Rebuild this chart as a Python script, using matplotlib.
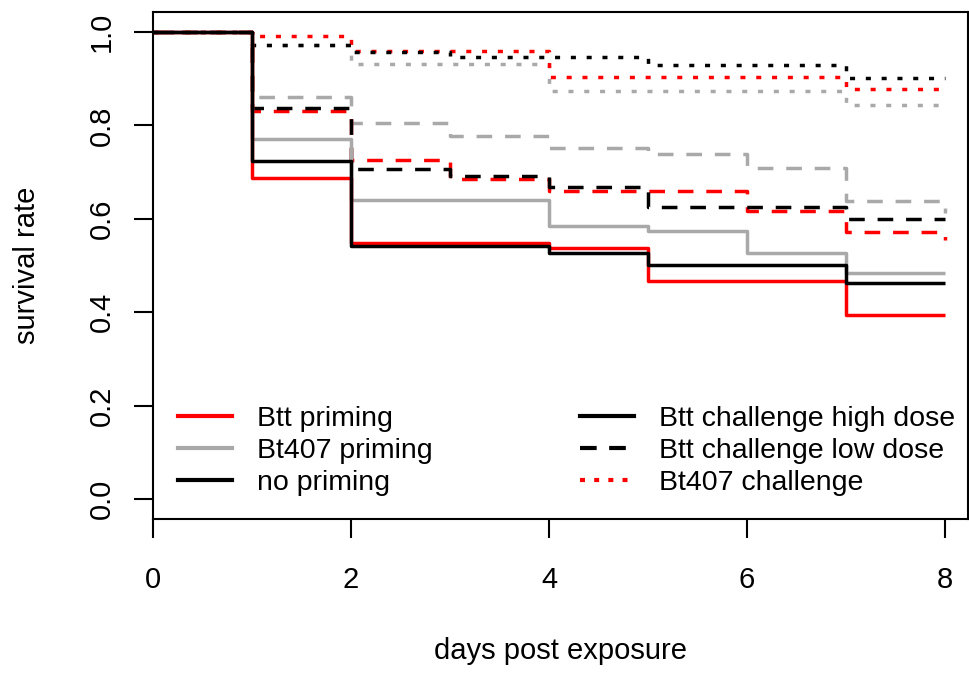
import matplotlib
matplotlib.use("Agg")
import matplotlib.pyplot as plt
from matplotlib.lines import Line2D

plt.rcParams['font.family'] = ['Liberation Sans', 'DejaVu Sans']

days = [0, 1, 2, 3, 4, 5, 6, 7, 8]

# priming x challenge
btt_high = [1, .687, .549, .549, .537, .467, .467, .394, .394]
bt407_high = [1, .771, .640, .640, .585, .574, .527, .484, .484]
none_high = [1, .724, .542, .542, .527, .501, .501, .462, .462]

btt_low = [1, .831, .726, .685, .660, .660, .617, .572, .555]
bt407_low = [1, .861, .805, .777, .752, .739, .709, .638, .612]
none_low = [1, .837, .707, .692, .669, .625, .625, .600, .600]

btt_407 = [1, .991, .959, .959, .904, .904, .904, .878, .878]
bt407_407 = [1, .972, .931, .931, .874, .874, .874, .844, .844]
none_407 = [1, .972, .957, .946, .946, .929, .929, .902, .902]

priming_labels = ['Btt priming', 'Bt407 priming', 'no priming']
challenge_labels = ['Btt challenge high dose', 'Btt challenge low dose', 'Bt407 challenge']

red = '#FF0000'
grey = '#A9A9A9'
black = '#000000'
lw = 2.5
dashed = (0, (4.5, 3.7))
dotted = (0, (1.45, 3.1))

fig = plt.figure(figsize=(9.69, 6.74), dpi=100)
ax = fig.add_axes([0.1579, 0.23, 0.999 - 0.1579, 0.9822 - 0.23])

curves = [
    (bt407_407, grey, dotted), (btt_407, red, dotted), (none_407, black, dotted),
    (bt407_low, grey, dashed), (btt_low, red, dashed), (none_low, black, dashed),
    (bt407_high, grey, '-'), (btt_high, red, '-'), (none_high, black, '-'),
]
for vals, col, ls in curves:
    ax.step(days, vals, where='post', color=col, lw=lw, linestyle=ls,
            dash_capstyle='butt', solid_capstyle='butt')

ax.set_xlim(0, 8.232)
ax.set_ylim(-0.043, 1.043)
ax.set_xticks([0, 2, 4, 6, 8])
ax.set_yticks([0.0, 0.2, 0.4, 0.6, 0.8, 1.0])
ax.set_yticklabels(['0.0', '0.2', '0.4', '0.6', '0.8', '1.0'], rotation=90, va='center')
ax.tick_params(axis='both', direction='out', length=13.5, width=1.5, labelsize=21)
ax.tick_params(axis='x', pad=20)
ax.tick_params(axis='y', pad=13)
for s in ax.spines.values():
    s.set_linewidth(1.5)

ax.set_xlabel('days post exposure', fontsize=21, labelpad=31)
ax.set_ylabel('survival rate', fontsize=21, labelpad=34)

h1 = [Line2D([], [], color=c, lw=3) for c in (red, grey, black)]
h2 = [Line2D([], [], color=black, lw=3, linestyle='-'),
      Line2D([], [], color=black, lw=3, linestyle=(0, (4, 3))),
      Line2D([], [], color=red, lw=3, linestyle=(0, (1.2, 2.2)))]
kw = dict(loc='upper left', frameon=False, fontsize=20.5, handlelength=1.9,
          handletextpad=0.86, labelspacing=0.2, borderpad=0, borderaxespad=0)
leg1 = ax.legend(h1, priming_labels, bbox_to_anchor=(0.0307, 0.222), **kw)
ax.add_artist(leg1)
ax.legend(h2, challenge_labels, bbox_to_anchor=(0.524, 0.222), **kw)

fig.savefig('out.png', dpi=100)
